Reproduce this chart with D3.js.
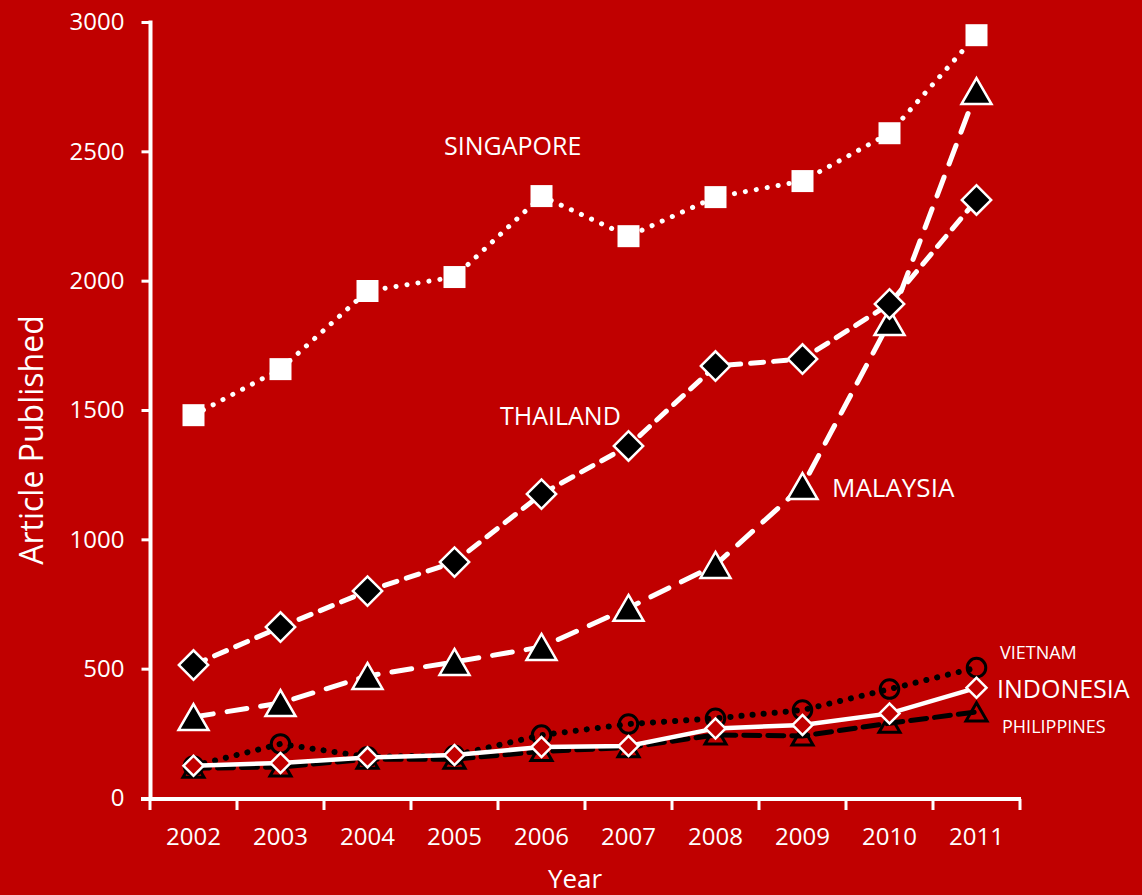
<!DOCTYPE html>
<html>
<head>
<meta charset="utf-8">
<script src="https://cdn.jsdelivr.net/npm/d3@7"></script>
<style>
  html, body { margin: 0; padding: 0; background: #c00000; }
  svg { display: block; }
  text { font-family: "Open Sans", sans-serif; fill: #fff; }
</style>
</head>
<body>
<svg id="chart"></svg>
<script>
const years = ['2002', '2003', '2004', '2005', '2006', '2007', '2008', '2009', '2010', '2011']
const singapore = [1480, 1658, 1960, 2014, 2327, 2172, 2323, 2385, 2570, 2949]
const thailand = [514, 661, 800, 912, 1175, 1361, 1670, 1697, 1910, 2312]
const malaysia = [313, 367, 472, 526, 584, 735, 901, 1206, 1840, 2733]
const vietnam = [124, 209, 159, 165, 243, 286, 308, 340, 421, 504]
const philippines = [115, 120, 150, 150, 180, 195, 244, 240, 289, 333]
const indonesia = [125, 135, 157, 166, 197, 201, 269, 282, 327, 426]
const yTicks = [0, 500, 1000, 1500, 2000, 2500, 3000]

const width = 1142
const height = 895
const red = '#c00000'

const svg = d3.select('#chart')
  .attr('width', width)
  .attr('height', height)

const x = d3.scaleBand().domain(years).range([150, 1020])
const y = d3.scaleLinear().domain([0, 3000]).range([798, 22])
const cx = d => x(d) + x.bandwidth() / 2

// y axis
const yAxis = svg.append('g')
  .attr('transform', 'translate(150.5,0)')
  .call(d3.axisLeft(y).tickValues(yTicks).tickSize(9).tickPadding(17).tickFormat(d3.format('d')))
yAxis.select('.domain').remove()
yAxis.selectAll('line').attr('stroke', '#fff').attr('stroke-width', 3)
yAxis.selectAll('text').style('font-size', '24px').attr('fill', '#fff')
yAxis.append('line')
  .attr('y1', y(3000) - 1.5).attr('y2', y(0) + 1.5)
  .attr('stroke', '#fff').attr('stroke-width', 4)

// x axis
const xAxis = svg.append('g')
  .attr('transform', `translate(0,${y(0) + 1})`)
  .call(d3.axisBottom(x).tickSize(0).tickPadding(29))
xAxis.select('.domain').remove()
xAxis.selectAll('text').style('font-size', '24px').attr('fill', '#fff')
xAxis.append('line')
  .attr('x1', 141).attr('x2', 1021)
  .attr('stroke', '#fff').attr('stroke-width', 4)
xAxis.selectAll('.bound')
  .data(years.map(d => x(d)).concat([x.range()[1]]))
  .enter().append('line')
  .attr('class', 'bound')
  .attr('x1', d => d).attr('x2', d => d)
  .attr('y1', 0).attr('y2', 11)
  .attr('stroke', '#fff').attr('stroke-width', 3)

svg.append('text')
  .attr('x', 575).attr('y', 888)
  .attr('text-anchor', 'middle')
  .style('font-size', '26px')
  .text('Year')

svg.append('text')
  .attr('transform', 'translate(43,440) rotate(-90)')
  .attr('text-anchor', 'middle')
  .style('font-size', '32px')
  .text('Article Published')

const line = d3.line().x((d, i) => cx(years[i])).y(d => y(d))

// triangle centred on its bounding box, like spreadsheet markers
const triangle = w => {
  const h = w * Math.sqrt(3) / 2
  return `M0,${-h / 2}L${w / 2},${h / 2}L${-w / 2},${h / 2}Z`
}
const symbolPath = s => s.tri ? triangle(s.tri) : d3.symbol().type(s.shape).size(s.size)()

const series = [
  { values: malaysia, stroke: '#fff', width: 5, dash: '20 14', tri: 30,
    fill: '#000', mStroke: '#fff', mWidth: 2.5, rot: 0 },
  { values: thailand, stroke: '#fff', width: 5, dash: '13 10',
    shape: d3.symbolSquare, size: 430, fill: '#000', mStroke: '#fff', mWidth: 2.5, rot: 45 },
  { values: singapore, stroke: '#fff', width: 5, dash: '0.1 11',
    shape: d3.symbolSquare, size: 484, fill: '#fff', mStroke: 'none', mWidth: 0, rot: 0 },
  { values: vietnam, stroke: '#000', width: 6, dash: '0.1 11',
    shape: d3.symbolCircle, size: 270, fill: 'none', mStroke: '#000', mWidth: 3, rot: 0 },
  { values: philippines, stroke: '#000', width: 5, dash: '16 8', tri: 21,
    fill: 'none', mStroke: '#000', mWidth: 3, rot: 0 },
  { values: indonesia, stroke: '#fff', width: 4.5, dash: null,
    shape: d3.symbolSquare, size: 200, fill: red, mStroke: '#fff', mWidth: 2.5, rot: 45 }
]

series.forEach(s => {
  const g = svg.append('g')
  g.append('path')
    .datum(s.values)
    .attr('d', line)
    .attr('fill', 'none')
    .attr('stroke', s.stroke)
    .attr('stroke-width', s.width)
    .attr('stroke-linecap', 'round')
    .attr('stroke-dasharray', s.dash)
  g.selectAll('.marker')
    .data(s.values)
    .enter().append('path')
    .attr('class', 'marker')
    .attr('transform', (d, i) => `translate(${cx(years[i])},${y(d)}) rotate(${s.rot})`)
    .attr('d', symbolPath(s))
    .attr('fill', s.fill)
    .attr('stroke', s.mStroke)
    .attr('stroke-width', s.mWidth)
    .attr('stroke-linejoin', 'miter')
})

// series labels
const labels = [
  { text: 'SINGAPORE', x: 444, y: 155, size: 25 },
  { text: 'THAILAND', x: 500, y: 425, size: 25 },
  { text: 'MALAYSIA', x: 832, y: 497, size: 26 },
  { text: 'VIETNAM', x: 1000, y: 659, size: 18 },
  { text: 'INDONESIA', x: 997, y: 698, size: 25 },
  { text: 'PHILIPPINES', x: 1002, y: 733, size: 18 }
]
svg.selectAll('.label')
  .data(labels)
  .enter().append('text')
  .attr('class', 'label')
  .attr('x', d => d.x)
  .attr('y', d => d.y)
  .style('font-size', d => d.size + 'px')
  .text(d => d.text)
</script>
</body>
</html>
